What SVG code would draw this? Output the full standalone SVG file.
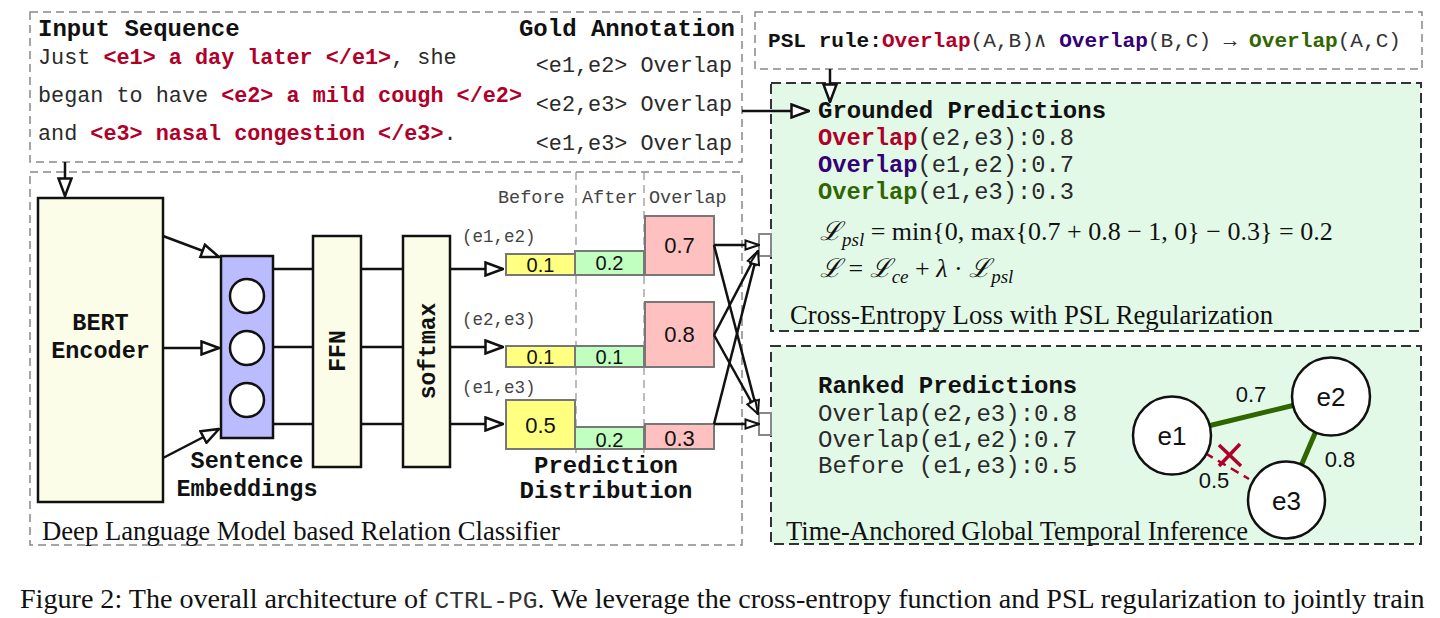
<svg xmlns="http://www.w3.org/2000/svg" width="1440" height="618" viewBox="0 0 1440 618">
<style>
.mono{font-family:"Liberation Mono","Courier New",monospace;}
.sans{font-family:"Liberation Sans",Arial,sans-serif;}
.serif{font-family:"Liberation Serif","Times New Roman",serif;}
.math{font-family:"Liberation Serif","DejaVu Serif",serif;font-size:26px;fill:#111;}
.b{font-weight:bold;}
.red{fill:#B0002A;font-weight:bold;}
.pur{fill:#330077;font-weight:bold;}
.grn{fill:#2F6600;font-weight:bold;}
.txt{fill:#2a2a2a;}
.gbox{fill:none;stroke:#888;stroke-width:1.5;stroke-dasharray:8 5;}
.gdash{fill:none;stroke:#999;stroke-width:1.3;stroke-dasharray:8 5;}
.green{fill:#E3F9E8;stroke:#333;stroke-width:2;stroke-dasharray:10 5;}
.blk{fill:#FBFDE8;stroke:#111;stroke-width:2.5;}
.ln{fill:none;stroke:#111;stroke-width:2.5;}
.ar{fill:none;stroke:#111;stroke-width:2.5;marker-end:url(#tri);}
.ars{fill:none;stroke:#111;stroke-width:2.5;marker-end:url(#tris);}
.bar{stroke:#777;stroke-width:2;}
.y{fill:#FFFF80;}.g{fill:#C0FFC0;}.p{fill:#FFC0C0;}
.v{font-family:"Liberation Sans",Arial,sans-serif;font-size:20px;fill:#111;text-anchor:middle;}
.vl{font-family:"Liberation Sans",Arial,sans-serif;font-size:22px;fill:#111;text-anchor:middle;}
.nl{font-family:"Liberation Sans",Arial,sans-serif;font-size:26px;fill:#111;text-anchor:middle;}
.node{fill:#fff;stroke:#111;stroke-width:2.5;}
.hdr{font-family:"Liberation Mono","Courier New",monospace;font-size:18.5px;fill:#444;}
.pair{font-family:"Liberation Mono","Courier New",monospace;font-size:17.5px;fill:#444;}
</style>
<defs>
<marker id="tri" viewBox="0 0 20 16" refX="19" refY="8" markerWidth="20" markerHeight="16" markerUnits="userSpaceOnUse" orient="auto">
<path d="M1.5,1.5 L19,8 L1.5,14.5 Z" fill="#fff" stroke="#111" stroke-width="2.5"/>
</marker>
<marker id="tris" viewBox="0 0 16 12" refX="15" refY="6" markerWidth="16" markerHeight="12" markerUnits="userSpaceOnUse" orient="auto">
<path d="M1.5,1.5 L15,6 L1.5,10.5 Z" fill="#fff" stroke="#111" stroke-width="2"/>
</marker>
</defs>
<rect width="1440" height="618" fill="#fff"/>

<!-- Input sequence box -->
<g id="input-sequence">
<rect class="gbox" x="30" y="12" width="712" height="150"/>
<text x="38" y="36" class="mono b" font-size="24" fill="#111">Input Sequence</text>
<text x="735" y="36" class="mono b" font-size="24" fill="#111" text-anchor="end">Gold Annotation</text>
<text x="38" y="64" class="mono txt" font-size="21.8">Just <tspan class="red">&lt;e1&gt; a day later &lt;/e1&gt;</tspan>, she</text>
<text x="38" y="102" class="mono txt" font-size="21.8">began to have <tspan class="red">&lt;e2&gt; a mild cough &lt;/e2&gt;</tspan></text>
<text x="38" y="140" class="mono txt" font-size="21.8">and <tspan class="red">&lt;e3&gt; nasal congestion &lt;/e3&gt;</tspan>.</text>
<text x="732" y="72" class="mono txt" font-size="21.8" text-anchor="end">&lt;e1,e2&gt; Overlap</text>
<text x="732" y="111" class="mono txt" font-size="21.8" text-anchor="end">&lt;e2,e3&gt; Overlap</text>
<text x="732" y="150" class="mono txt" font-size="21.8" text-anchor="end">&lt;e1,e3&gt; Overlap</text>
</g>

<!-- PSL rule box -->
<g id="psl-rule">
<rect class="gbox" x="755" y="12" width="667" height="57"/>
<text x="768" y="47" class="mono" font-size="21.1" fill="#333"><tspan class="b" fill="#111">PSL rule:</tspan><tspan class="red">Overlap</tspan>(A,B)∧ <tspan class="pur">Overlap</tspan>(B,C) → <tspan class="grn">Overlap</tspan>(A,C)</text>
</g>

<!-- Grounded predictions box -->
<g id="grounded-predictions">
<rect class="green" x="771" y="83" width="650" height="248"/>
<text x="818" y="118" class="mono b" font-size="24" fill="#111">Grounded Predictions</text>
<text x="818" y="145" class="mono txt" font-size="23.7"><tspan class="red">Overlap</tspan>(e2,e3):0.8</text>
<text x="818" y="172" class="mono txt" font-size="23.7"><tspan class="pur">Overlap</tspan>(e1,e2):0.7</text>
<text x="818" y="199" class="mono txt" font-size="23.7"><tspan class="grn">Overlap</tspan>(e1,e3):0.3</text>
<text x="820" y="240" class="math"><tspan font-style="italic">ℒ</tspan><tspan font-style="italic" font-size="19" dy="6">psl</tspan><tspan dy="-6"> = min{0, max{0.7 + 0.8 − 1, 0} − 0.3} = 0.2</tspan></text>
<text x="820" y="277" class="math"><tspan font-style="italic">ℒ</tspan> = <tspan font-style="italic">ℒ</tspan><tspan font-style="italic" font-size="19" dy="6">ce</tspan><tspan dy="-6"> + </tspan><tspan font-style="italic">λ</tspan> · <tspan font-style="italic">ℒ</tspan><tspan font-style="italic" font-size="19" dy="6">psl</tspan></text>
<text x="790" y="324" class="serif" font-size="26.5" fill="#111" textLength="483" lengthAdjust="spacingAndGlyphs">Cross-Entropy Loss with PSL Regularization</text>
</g>

<!-- Global inference box -->
<g id="global-inference">
<rect class="green" x="771" y="346" width="650" height="198"/>
<text x="818" y="393" class="mono b" font-size="24" fill="#111">Ranked Predictions</text>
<text x="818" y="421" class="mono txt" font-size="24">Overlap(e2,e3):0.8</text>
<text x="818" y="447" class="mono txt" font-size="24">Overlap(e1,e2):0.7</text>
<text x="818" y="473" class="mono txt" font-size="24">Before (e1,e3):0.5</text>
<text x="786" y="540" class="serif" font-size="26.5" fill="#111" textLength="462" lengthAdjust="spacingAndGlyphs">Time-Anchored Global Temporal Inference</text>
</g>

<!-- Relation classifier box -->
<g id="relation-classifier">
<rect class="gbox" x="30" y="172" width="712" height="373"/>
<text x="42" y="540" class="serif" font-size="26.5" fill="#111" textLength="518" lengthAdjust="spacingAndGlyphs">Deep Language Model based Relation Classifier</text>
<line class="gdash" x1="576" y1="172" x2="576" y2="458"/>
<line class="gdash" x1="644" y1="172" x2="644" y2="458"/>
</g>

<g id="bert-encoder">
<rect class="blk" x="38" y="198" width="125" height="304"/>
<text x="100.5" y="330" class="mono b" font-size="23.5" fill="#111" text-anchor="middle">BERT</text>
<text x="100.5" y="358" class="mono b" font-size="23.5" fill="#111" text-anchor="middle">Encoder</text>
</g>

<g id="sentence-embeddings">
<rect x="221" y="256" width="52" height="182" fill="#BBBBFF" stroke="#111" stroke-width="2.5"/>
<circle class="node" cx="247" cy="296" r="17"/>
<circle class="node" cx="247" cy="348" r="17"/>
<circle class="node" cx="247" cy="400" r="17"/>
<text x="247" y="468" class="mono b" font-size="23.5" fill="#111" text-anchor="middle">Sentence</text>
<text x="247" y="496" class="mono b" font-size="23.5" fill="#111" text-anchor="middle">Embeddings</text>
</g>

<g id="ffn">
<rect class="blk" x="313" y="236" width="48" height="231"/>
<text transform="translate(345,351) rotate(-90)" class="mono b" font-size="23" fill="#111" text-anchor="middle">FFN</text>
</g>

<g id="softmax">
<rect class="blk" x="403" y="236" width="47" height="231"/>
<text transform="translate(435,351) rotate(-90)" class="mono b" font-size="23" fill="#111" text-anchor="middle">softmax</text>
</g>

<g id="prediction-distribution">
<text x="498" y="203" class="hdr">Before</text>
<text x="582" y="203" class="hdr">After</text>
<text x="649" y="203" class="hdr">Overlap</text>
<text x="462" y="242" class="pair">(e1,e2)</text>
<text x="462" y="325" class="pair">(e2,e3)</text>
<text x="462" y="393" class="pair">(e1,e3)</text>
<rect class="bar y" x="506" y="254" width="69" height="21"/>
<rect class="bar g" x="575" y="251" width="69" height="24"/>
<rect class="bar p" x="645" y="216" width="69" height="59"/>
<rect class="bar y" x="506" y="346" width="69" height="21"/>
<rect class="bar g" x="575" y="346" width="69" height="21"/>
<rect class="bar p" x="645" y="302" width="69" height="65"/>
<rect class="bar y" x="506" y="400" width="69" height="49"/>
<rect class="bar g" x="575" y="427" width="69" height="22"/>
<rect class="bar p" x="645" y="424" width="69" height="25"/>
<text x="540.5" y="272" class="v">0.1</text>
<text x="609.5" y="270" class="v">0.2</text>
<text x="679.5" y="253" class="vl">0.7</text>
<text x="540.5" y="364" class="v">0.1</text>
<text x="609.5" y="364" class="v">0.1</text>
<text x="679.5" y="342" class="vl">0.8</text>
<text x="540.5" y="433" class="vl">0.5</text>
<text x="609.5" y="447" class="v">0.2</text>
<text x="679.5" y="446" class="vl">0.3</text>
<text x="606" y="473" class="mono b" font-size="24" fill="#111" text-anchor="middle">Prediction</text>
<text x="606" y="498" class="mono b" font-size="24" fill="#111" text-anchor="middle">Distribution</text>
</g>

<g id="collectors">
<rect x="759" y="234" width="12" height="22" fill="#fff" stroke="#888" stroke-width="2"/>
<rect x="759" y="413" width="12" height="22" fill="#fff" stroke="#888" stroke-width="2"/>
</g>

<g id="temporal-graph">
<line x1="1208" y1="426" x2="1295" y2="405" stroke="#2F6600" stroke-width="5"/>
<line x1="1316" y1="431" x2="1301" y2="466" stroke="#2F6600" stroke-width="5"/>
<line x1="1205" y1="453" x2="1249" y2="479" stroke="#B0002A" stroke-width="2.5" stroke-dasharray="9 6"/>
<line x1="1219" y1="445" x2="1241" y2="466" stroke="#B0002A" stroke-width="3.5"/>
<line x1="1240" y1="444" x2="1219" y2="466" stroke="#B0002A" stroke-width="3.5"/>
<g id="e1"><ellipse class="node" cx="1172" cy="435.5" rx="39" ry="39"/><text x="1172" y="445" class="nl">e1</text></g>
<g id="e2"><ellipse class="node" cx="1331" cy="396.5" rx="39" ry="39"/><text x="1331" y="406" class="nl">e2</text></g>
<g id="e3"><ellipse class="node" cx="1286.5" cy="500" rx="38.5" ry="38.5"/><text x="1286.5" y="510" class="nl">e3</text></g>
<text x="1251" y="402" class="vl">0.7</text>
<text x="1340" y="467" class="vl">0.8</text>
<text x="1214" y="488" class="vl">0.5</text>
</g>

<g id="connectors">
<line class="ar" x1="65" y1="162" x2="65" y2="196"/>
<line class="ar" x1="830" y1="69" x2="830" y2="102"/>
<line class="ar" x1="742" y1="111" x2="809" y2="111"/>
<line class="ar" x1="163" y1="236" x2="219" y2="257"/>
<line class="ar" x1="163" y1="348" x2="219" y2="348"/>
<line class="ar" x1="163" y1="458" x2="219" y2="429"/>
<line class="ln" x1="273" y1="269" x2="313" y2="269"/>
<line class="ln" x1="273" y1="347" x2="313" y2="347"/>
<line class="ln" x1="273" y1="424" x2="313" y2="424"/>
<line class="ln" x1="361" y1="269" x2="403" y2="269"/>
<line class="ln" x1="361" y1="347" x2="403" y2="347"/>
<line class="ln" x1="361" y1="424" x2="403" y2="424"/>
<line class="ar" x1="450" y1="269" x2="503" y2="269"/>
<line class="ar" x1="450" y1="347" x2="503" y2="347"/>
<line class="ar" x1="450" y1="424" x2="503" y2="424"/>
<line class="ars" x1="714" y1="245" x2="759" y2="245"/>
<line class="ars" x1="714" y1="245" x2="758" y2="414"/>
<line class="ars" x1="714" y1="335" x2="758" y2="251"/>
<line class="ars" x1="714" y1="335" x2="758" y2="414"/>
<line class="ars" x1="714" y1="424" x2="758" y2="251"/>
<line class="ars" x1="714" y1="424" x2="759" y2="424"/>
</g>

<text x="20" y="608" class="serif" font-size="28.1" fill="#111">Figure 2: The overall architecture of <tspan class="mono" font-size="24.5" fill="#333">CTRL-PG</tspan>. We leverage the cross-entropy function and PSL regularization to jointly train</text>
</svg>
